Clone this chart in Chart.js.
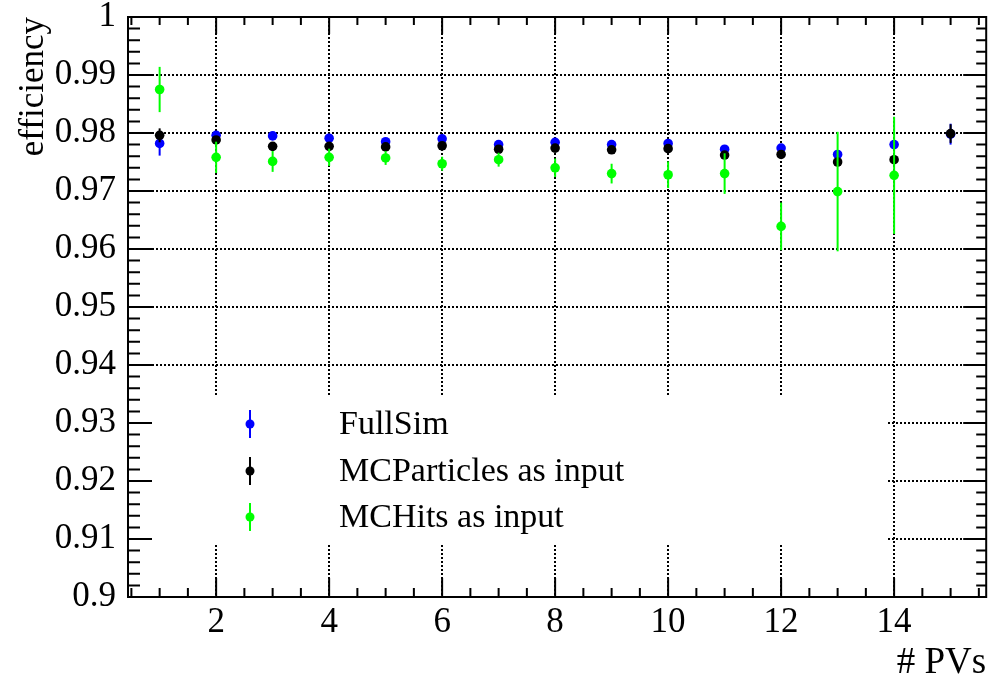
<!DOCTYPE html>
<html>
<head>
<meta charset="utf-8">
<title>efficiency vs # PVs</title>
<script src="https://cdn.jsdelivr.net/npm/chart.js@4.4.1/dist/chart.umd.min.js"></script>
<style>
  body { margin: 0; background: #fff; }
  #wrap { width: 991px; height: 678px; }
</style>
</head>
<body>
<div id="wrap"><canvas id="effChart" width="991" height="678"></canvas></div>
<script>
// number of primary vertices
const pvs = [1, 2, 3, 4, 5, 6, 7, 8, 9, 10, 11, 12, 13, 14, 15];

const fullSim    = [0.9782, 0.9796, 0.9795, 0.9791, 0.9785, 0.9790, 0.9780, 0.9784, 0.9780, 0.9782, 0.9772, 0.9774, 0.9763, 0.9780, 0.9798];
const fullSimErr = [0.0021, 0.0005, 0.0005, 0.0005, 0.0005, 0.0005, 0.0005, 0.0005, 0.0005, 0.0005, 0.0005, 0.0005, 0.0005, 0.0005, 0.0018];

const mcParticles    = [0.9796, 0.9788, 0.9777, 0.9777, 0.9776, 0.9778, 0.9772, 0.9774, 0.9771, 0.9773, 0.9762, 0.9763, 0.9750, 0.9754, 0.9799];
const mcParticlesErr = [0.0012, 0.0005, 0.0004, 0.0004, 0.0004, 0.0004, 0.0004, 0.0004, 0.0004, 0.0005, 0.0005, 0.0005, 0.0006, 0.0006, 0.0016];

const mcHits    = [0.9875, 0.9758, 0.9751, 0.9758, 0.9757, 0.9747, 0.9754, 0.9740, 0.9730, 0.9728, 0.9730, 0.9639, 0.9699, 0.9727, null];
const mcHitsErr = [0.0039, 0.0027, 0.0018, 0.0015, 0.0012, 0.0012, 0.0012, 0.0016, 0.0017, 0.0023, 0.0035, 0.0041, 0.0103, 0.0101, null];

const seriesNames = ['FullSim', 'MCParticles as input', 'MCHits as input'];
const seriesColors = ['#0000ff', '#000000', '#00ff00'];

const xTicks = [2, 4, 6, 8, 10, 12, 14];
const yTicks = [0.9, 0.91, 0.92, 0.93, 0.94, 0.95, 0.96, 0.97, 0.98, 0.99, 1];
const yTickLabels = ['0.9', '0.91', '0.92', '0.93', '0.94', '0.95', '0.96', '0.97', '0.98', '0.99', '1'];

const serif = '"Liberation Serif", "Times New Roman", serif';

function points(vals) {
  return pvs.map((x, i) => ({ x: x, y: vals[i] })).filter(p => p.y !== null);
}
const errs = [fullSimErr, mcParticlesErr, mcHitsErr];
const vals = [fullSim, mcParticles, mcHits];

// ROOT-like frame, ticks, legend and titles
const rootStyle = {
  id: 'rootStyle',
  beforeDatasetsDraw(chart) {
    const ctx = chart.ctx, a = chart.chartArea;
    // legend box hides the grid behind it
    ctx.save();
    ctx.fillStyle = '#fff';
    ctx.fillRect(a.left, 397, 888 - a.left, 146);
    ctx.restore();
  },
  beforeDatasetDraw(chart, args) {
    const ctx = chart.ctx, y = chart.scales.y;
    const di = args.index;
    const v = vals[di], e = errs[di];
    ctx.save();
    ctx.strokeStyle = seriesColors[di];
    ctx.lineWidth = 2;
    let k = 0;
    pvs.forEach((x, i) => {
      if (v[i] === null) return;
      const el = args.meta.data[k++];
      ctx.beginPath();
      ctx.moveTo(el.x, y.getPixelForValue(v[i] + e[i]));
      ctx.lineTo(el.x, y.getPixelForValue(v[i] - e[i]));
      ctx.stroke();
    });
    ctx.restore();
  },
  afterDraw(chart) {
    const ctx = chart.ctx, a = chart.chartArea;
    const xs = chart.scales.x, ys = chart.scales.y;
    ctx.save();
    ctx.strokeStyle = '#000';
    ctx.lineWidth = 2;
    ctx.strokeRect(a.left, a.top, a.right - a.left, a.bottom - a.top);

    ctx.beginPath();
    // x ticks, bottom and top
    for (let v = 0.5; v <= 15.5; v += 0.5) {
      const px = xs.getPixelForValue(v);
      const major = xTicks.includes(v);
      ctx.moveTo(px, a.bottom); ctx.lineTo(px, a.bottom - (major ? 19 : 9));
      ctx.moveTo(px, a.top); ctx.lineTo(px, a.top + (major ? 17 : 8));
    }
    // y ticks, left and right
    for (let i = 0; i <= 50; i++) {
      const v = 0.9 + i * 0.002;
      const py = ys.getPixelForValue(v);
      const major = i % 5 === 0;
      ctx.moveTo(a.left, py); ctx.lineTo(a.left + (major ? 24 : 12), py);
      ctx.moveTo(a.right, py); ctx.lineTo(a.right - (major ? 23 : 10), py);
    }
    ctx.stroke();

    // legend
    const rows = [424, 471, 517];
    rows.forEach((ry, i) => {
      ctx.strokeStyle = seriesColors[i];
      ctx.fillStyle = seriesColors[i];
      ctx.lineWidth = 2;
      ctx.beginPath();
      ctx.moveTo(250, ry - 14); ctx.lineTo(250, ry + 14);
      ctx.stroke();
      ctx.beginPath();
      ctx.arc(250, ry, 4.5, 0, Math.PI * 2);
      ctx.fill();
      ctx.fillStyle = '#000';
      ctx.font = '34px ' + serif;
      ctx.textAlign = 'left';
      ctx.textBaseline = 'middle';
      ctx.fillText(seriesNames[i], 339, ry + 1);
    });

    // axis titles
    ctx.fillStyle = '#000';
    ctx.font = '37px ' + serif;
    ctx.textAlign = 'right';
    ctx.textBaseline = 'alphabetic';
    ctx.fillText('# PVs', a.right, 673);

    ctx.translate(43, a.top);
    ctx.rotate(-Math.PI / 2);
    ctx.font = '35px ' + serif;
    ctx.textAlign = 'right';
    ctx.fillText('efficiency', 0, 0);
    ctx.restore();
  }
};

const ctxEff = document.getElementById('effChart').getContext('2d');
const effChart = new Chart(ctxEff, {
  type: 'scatter',
  data: {
    datasets: [0, 1, 2].map(i => ({
      label: seriesNames[i],
      data: points(vals[i]),
      backgroundColor: seriesColors[i],
      borderColor: seriesColors[i],
      pointRadius: 4.8,
      pointBorderWidth: 0,
      pointHoverRadius: 4.8,
      order: 3 - i
    }))
  },
  options: {
    responsive: false,
    animation: false,
    layout: { padding: { top: 17, right: 4, left: 0, bottom: 0 } },
    plugins: {
      legend: { display: false },
      tooltip: { enabled: false }
    },
    scales: {
      x: {
        type: 'linear',
        min: 0.44,
        max: 15.63,
        afterBuildTicks: s => { s.ticks = xTicks.map(v => ({ value: v })); },
        afterFit: s => { s.height = 81; s.paddingLeft = 0; s.paddingRight = 0; },
        ticks: {
          color: '#000',
          font: { family: serif, size: 35, lineHeight: 1 },
          padding: 8,
          maxRotation: 0,
          autoSkip: false
        },
        grid: { color: '#000', lineWidth: 2, drawTicks: false },
        border: { display: false, dash: [2, 2] }
      },
      y: {
        min: 0.9,
        max: 1,
        afterBuildTicks: s => { s.ticks = yTicks.map(v => ({ value: v })); },
        afterFit: s => { s.width = 128; s.paddingTop = 0; s.paddingBottom = 0; },
        ticks: {
          color: '#000',
          font: { family: serif, size: 35, lineHeight: 1 },
          padding: 12,
          callback: (v, i) => yTickLabels[i]
        },
        grid: { color: '#000', lineWidth: 2, drawTicks: false },
        border: { display: false, dash: [2, 2] }
      }
    }
  },
  plugins: [rootStyle]
});
</script>
</body>
</html>
